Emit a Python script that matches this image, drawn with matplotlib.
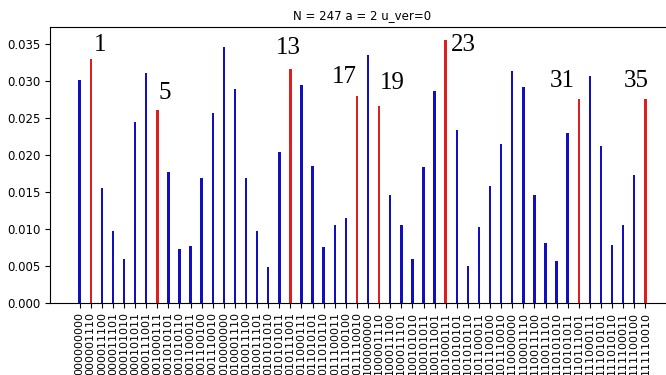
import matplotlib
matplotlib.use("Agg")
import matplotlib.pyplot as plt

# measured outcomes of the 9-bit register (as integers) and their frequencies
outcomes = [0, 14, 28, 29, 42, 43, 57, 71, 85, 86, 99, 100, 114, 128, 142, 156,
            157, 170, 171, 185, 199, 213, 214, 227, 228, 242, 256, 270, 284, 285,
            298, 299, 313, 327, 341, 342, 355, 356, 370, 384, 398, 412, 413, 426,
            427, 441, 455, 469, 470, 483, 484, 498]
freqs = [0.0301, 0.0329, 0.0155, 0.0097, 0.0059, 0.0244, 0.0311, 0.0261, 0.0177,
         0.0073, 0.0077, 0.0168, 0.0256, 0.0346, 0.0289, 0.0168, 0.0097, 0.0048,
         0.0204, 0.0316, 0.0295, 0.0185, 0.0075, 0.0105, 0.0114, 0.0280, 0.0335,
         0.0266, 0.0145, 0.0105, 0.0059, 0.0183, 0.0286, 0.0355, 0.0234, 0.0049,
         0.0103, 0.0158, 0.0215, 0.0313, 0.0292, 0.0145, 0.0081, 0.0056, 0.0229,
         0.0275, 0.0307, 0.0212, 0.0078, 0.0105, 0.0172, 0.0275]

# highlighted outcomes and the j numbers written next to them
red_outcomes = [14, 71, 185, 242, 270, 327, 441, 498]
red_labels = [1, 5, 13, 17, 19, 23, 31, 35]
# where the j number sits relative to its bar (bar units, value units)
label_offsets = [(0.84, 0.0020), (0.63, 0.0023), (-0.15, 0.0029), (-1.1, 0.0025),
                 (1.2, 0.0031), (1.6, -0.0007), (-1.5, 0.0025), (-0.85, 0.0025)]

tick_labels = [format(v, "09b") for v in outcomes]
x = range(len(outcomes))
colors = ["#dd1f1f" if v in red_outcomes else "#1010c0" for v in outcomes]

fig = plt.figure(figsize=(6.66, 3.75), dpi=100)
ax = fig.add_axes([50 / 666, 72.3 / 375, 625 / 666, 275.7 / 375])

ax.bar(x, freqs, width=0.22, color=colors)

for v, lab, (dx, dy) in zip(red_outcomes, red_labels, label_offsets):
    i = outcomes.index(v)
    ax.text(i + dx, freqs[i] + dy, str(lab), ha="center", va="center",
            fontsize=18, family="Liberation Serif")

ax.set_xticks(list(x))
ax.set_xticklabels(tick_labels, rotation=90, fontsize=8)
ax.tick_params(axis="y", labelsize=8.5)
ax.set_title("N = 247 a = 2 u_ver=0", fontsize=8.5)

fig.savefig("out.png", dpi=100)
